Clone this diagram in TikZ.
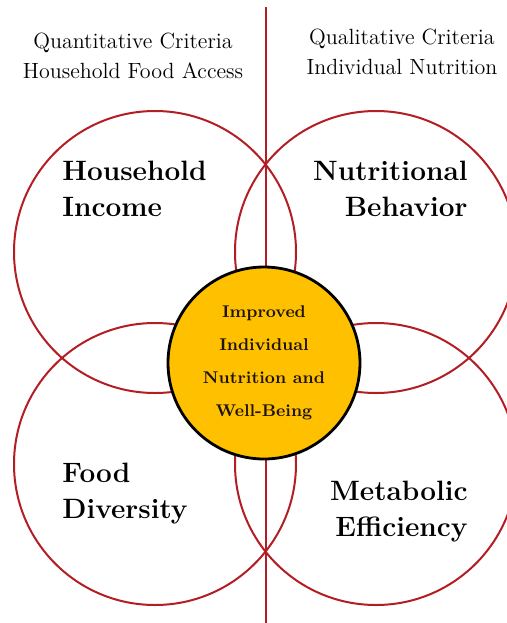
\documentclass[tikz,border=0pt]{standalone}
\usepackage{tikz}
\tikzset{>=latex}
\usetikzlibrary{positioning}
\definecolor{ringred}{RGB}{178,30,36}
\definecolor{coregold}{RGB}{255,192,0}
\tikzset{
  ring/.style={draw=ringred, line width=1pt},
  core/.style={circle, draw=black, line width=1.4pt, fill=coregold, inner sep=0pt,
    minimum size=96pt, align=center, text=black!85!brown,
    font=\fontsize{8.5}{16.5}\selectfont\bfseries},
  crit/.style={inner sep=0pt, align=center, font=\fontsize{11}{15}\selectfont},
  factor/.style={inner sep=0pt, font=\fontsize{14}{18}\selectfont\bfseries}
}

\begin{document}
\begin{tikzpicture}[x=0.5pt,y=-0.5pt]
            \useasboundingbox (0,0) rectangle (507,623);
            % the four criteria circles
            \foreach \cx/\cy in {155/252, 376/252, 155/464, 376/464}
            {
            \draw[ring] (\cx,\cy) circle (141);
            }
            % dividing line
            \draw[ring] (265.5,7) -- (265.5,623);

            \node[core] (core) at (264,363) {Improved\\Individual\\Nutrition and\\Well-Being};

            \node[crit] (quant) at (133,56) {Quantitative Criteria\\Household Food Access};
            \node[crit] (qual) at (402,52) {Qualitative Criteria\\Individual Nutrition};

            \node[factor, anchor=west, align=left] (income) at (62,189) {Household\\Income};
            \node[factor, anchor=east, align=right] (behavior) at (468,189) {Nutritional\\Behavior};
            \node[factor, anchor=west, align=left] (diversity) at (62,494) {Food\\Diversity};
            \node[factor, anchor=east, align=right] (efficiency) at (468,512) {Metabolic\\Efficiency};
\end{tikzpicture}
\end{document}
